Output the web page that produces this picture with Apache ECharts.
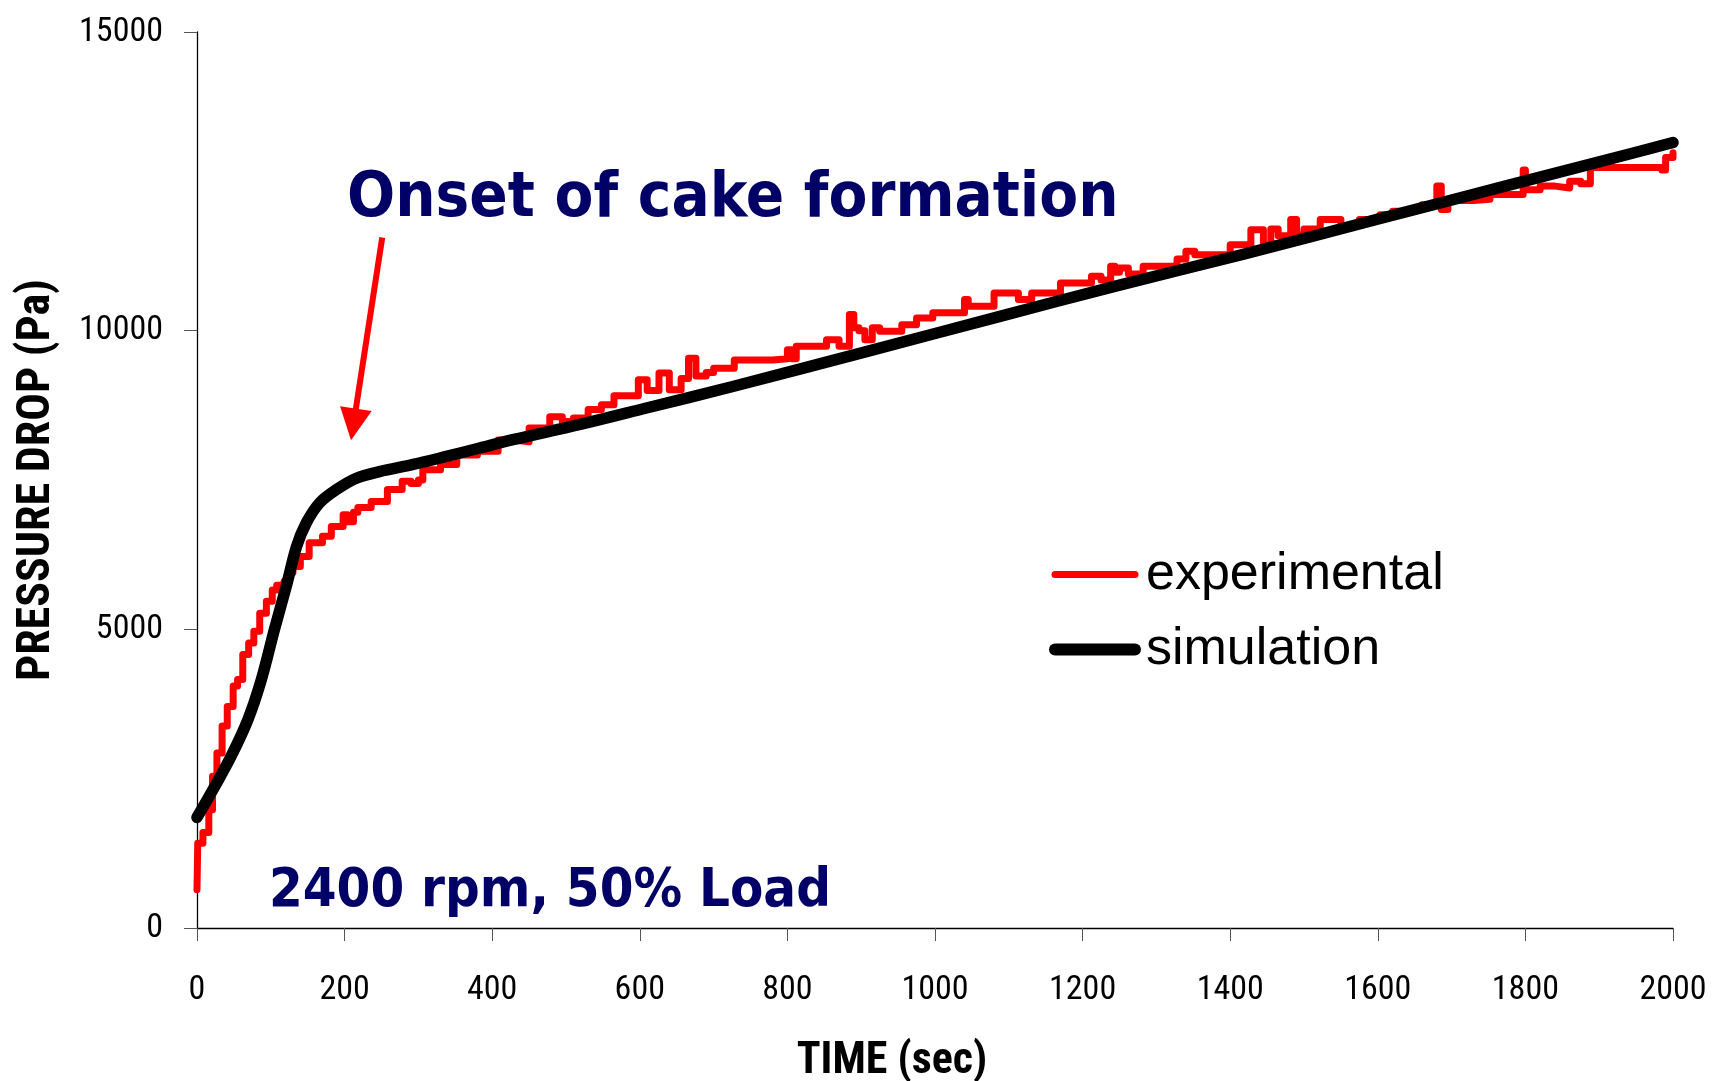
<!DOCTYPE html>
<html>
<head>
<meta charset="utf-8">
<script src="https://cdn.jsdelivr.net/npm/echarts@6/dist/echarts.min.js"></script>
<style>
html,body{margin:0;padding:0;background:#fff;}
#chart{width:1712px;height:1081px;}
</style>
</head>
<body>
<div id="chart"></div>
<script>
// ---- data ----
var xTicks = [0, 200, 400, 600, 800, 1000, 1200, 1400, 1600, 1800, 2000];
var yTicks = [0, 5000, 10000, 15000];

// experimental (step-like record) : [time s, pressure drop Pa]
var experimental = [
  [0,640],[1,1420],[8,1600],[16,1980],[21,2540],[27,2930],[34,3380],[41,3710],[49,4050],[55,4160],
  [62,4580],[70,4770],[77,4970],[85,5270],[94,5470],[102,5660],[108,5740],[118,5800],[124,5950],[130,6050],
  [140,6220],[152,6450],[170,6560],[182,6720],[198,6920],[204,6800],[212,6960],[218,7040],[236,7140],[258,7340],
  [278,7480],[290,7440],[300,7500],[306,7670],[330,7760],[352,7920],[380,7980],[408,8170],[430,8140],[450,8370],
  [478,8560],[495,8480],[510,8540],[530,8680],[548,8760],[565,8910],[598,9180],[610,9000],[626,9290],[640,9010],
  [656,9200],[666,9540],[676,9240],[690,9300],[700,9370],[728,9510],[780,9530],[800,9680],[806,9530],[812,9740],
  [853,9850],[870,9740],[884,10270],[890,10050],[897,10000],[905,9850],[915,10050],[925,9990],[955,10100],[975,10210],
  [997,10300],[1040,10520],[1045,10410],[1080,10630],[1113,10520],[1131,10630],[1170,10800],[1212,10910],[1225,10850],[1238,11080],
  [1244,10980],[1250,11050],[1262,10950],[1282,11080],[1328,11200],[1340,11330],[1352,11270],[1400,11440],[1428,11690],[1445,11440],
  [1455,11700],[1465,11590],[1482,11860],[1490,11600],[1500,11700],[1522,11860],[1550,11760],[1575,11860],[1603,11940],[1620,12000],
  [1650,12030],[1660,12110],[1680,12420],[1686,12030],[1695,12180],[1730,12200],[1752,12280],[1797,12690],[1800,12360],[1820,12420],
  [1840,12390],[1860,12500],[1875,12460],[1888,12730],[1960,12730],[1985,12690],[1990,12900],[2000,12980]
];

// simulation : [time s, pressure drop Pa]
var simulation = [
  [0,1850],[24,2370],[46,2870],[69,3490],[87,4150],[105,5000],[121,5720],[135,6390],[148,6780],[166,7115],
  [189,7340],[216,7530],[247,7640],[293,7760],[338,7895],[383,8035],[428,8175],[519,8430],[609,8705],[726,9065],
  [907,9650],[1088,10240],[1246,10750],[1418,11280],[1598,11860],[1779,12440],[1937,12945],[2000,13150]
];

// annotation arrow (data coordinates): from text down to the knee
var arrowFrom = [251, 11560];
var arrowTo = [212, 8430];

var seriesNames = ['experimental', 'simulation'];
var seriesColors = ['#ff0000', '#000000'];
var annotationText = 'Onset of cake formation';
var conditionText = '2400 rpm, 50% Load';
var xTitle = 'TIME (sec)';
var yTitle = 'PRESSURE DROP (Pa)';

var NARROW = "'Liberation Sans Narrow', 'Arial Narrow', 'Roboto Condensed', 'DejaVu Sans Condensed', sans-serif";
var BOLDF = "'DejaVu Sans Condensed', 'DejaVu Sans', sans-serif";

var chart = echarts.init(document.getElementById('chart'), null, {renderer: 'canvas'});
chart.setOption({
  animation: false,
  backgroundColor: '#ffffff',
  grid: {left: 197, top: 32, width: 1476, height: 896, containLabel: false, outerBoundsMode: 'none'},
  xAxis: {
    type: 'value', min: xTicks[0], max: xTicks[xTicks.length - 1], interval: 200,
    name: xTitle, nameLocation: 'middle', nameGap: 134,
    nameTextStyle: {fontFamily: NARROW, fontWeight: 'bold', fontSize: 44, color: '#000', verticalAlign: 'middle', padding: [0, 86, 0, 0]},
    axisLine: {lineStyle: {color: '#000', width: 1.3}},
    axisTick: {inside: false, length: 13, lineStyle: {color: '#555', width: 1}},
    axisLabel: {fontFamily: NARROW, fontSize: 34, color: '#000', margin: 45, formatter: function (v) { return String(v); }},
    splitLine: {show: false}
  },
  yAxis: {
    type: 'value', min: yTicks[0], max: yTicks[yTicks.length - 1], interval: 5000,
    name: yTitle, nameLocation: 'middle', nameGap: 137,
    nameTextStyle: {fontFamily: NARROW, fontWeight: 'bold', fontSize: 46, color: '#000'},
    axisLine: {show: true, lineStyle: {color: '#000', width: 1.3}},
    axisTick: {show: true, inside: false, length: 13, lineStyle: {color: '#555', width: 1}},
    axisLabel: {fontFamily: NARROW, fontSize: 34, color: '#000', margin: 34, padding: [0, 0, 12, 0], formatter: function (v) { return String(v); }},
    splitLine: {show: false}
  },
  legend: {
    orient: 'vertical', left: 1044, top: 543, itemWidth: 80, itemHeight: 20, itemGap: 22,
    data: [
      {name: seriesNames[0], itemStyle: {opacity: 0}, lineStyle: {color: seriesColors[0], width: 7, cap: 'round'}},
      {name: seriesNames[1], itemStyle: {opacity: 0}, lineStyle: {color: seriesColors[1], width: 12, cap: 'round'}}
    ],
    textStyle: {fontFamily: "'Liberation Sans', Arial, sans-serif", fontSize: 52, color: '#000', lineHeight: 53, padding: [0, 0, 0, 6]}
  },
  series: [
    {
      name: seriesNames[0], type: 'line', data: experimental, step: 'end',
      showSymbol: false, symbol: 'none', z: 2,
      lineStyle: {color: seriesColors[0], width: 7, cap: 'round', join: 'round'},
      itemStyle: {color: seriesColors[0]},
      markLine: {
        silent: true, symbol: ['none', 'triangle'], symbolSize: [32, 32],
        lineStyle: {color: seriesColors[0], width: 6, type: 'solid'},
        label: {show: false},
        data: [[{coord: arrowFrom}, {coord: arrowTo}]]
      }
    },
    {
      name: seriesNames[1], type: 'line', data: simulation, smooth: 0.35,
      showSymbol: false, symbol: 'none', z: 3,
      lineStyle: {color: seriesColors[1], width: 11.5, cap: 'round', join: 'round'},
      itemStyle: {color: seriesColors[1]}
    }
  ],
  graphic: [
    {type: 'text', left: 347, top: 168, z: 10,
     style: {text: annotationText, fontFamily: BOLDF, fontWeight: 'bold', fontSize: 63, fill: '#000066'}},
    {type: 'text', left: 269, top: 865, z: 10,
     style: {text: conditionText, fontFamily: BOLDF, fontWeight: 'bold', fontSize: 54, fill: '#000066'}}
  ]
});
</script>
</body>
</html>
